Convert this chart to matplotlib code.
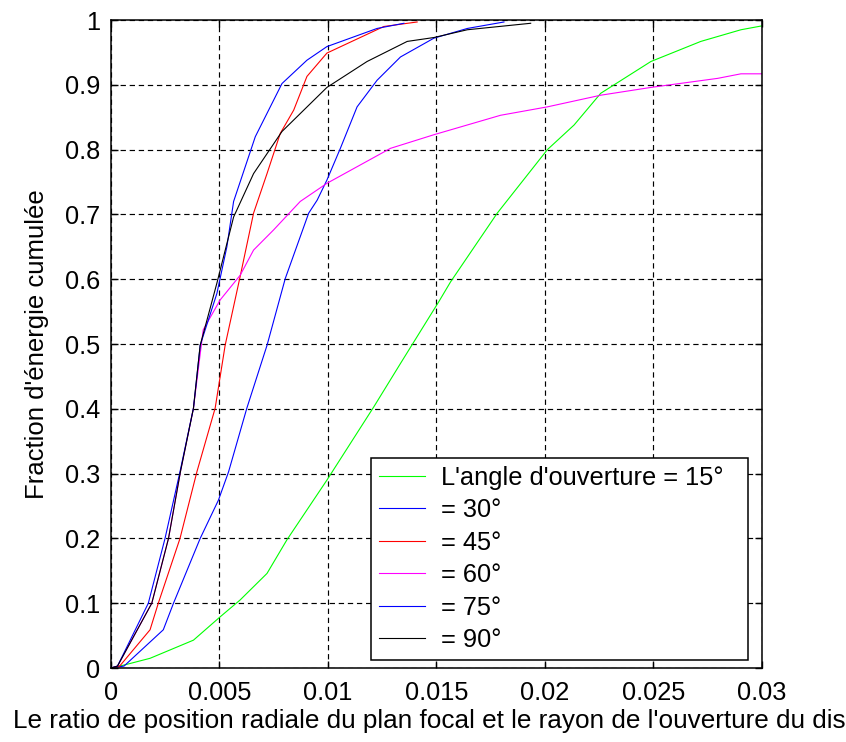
import matplotlib
matplotlib.use("Agg")
import matplotlib.pyplot as plt
from matplotlib.ticker import FixedLocator, FixedFormatter

# ---- data ----
x15 = [0, 0.00065, 0.0018, 0.0038, 0.00503, 0.00595, 0.00719, 0.00811, 0.00995, 0.01211,
       0.01334, 0.0151, 0.01565, 0.0178, 0.02011, 0.02134, 0.02257, 0.02488, 0.02718, 0.02903, 0.030]
y15 = [0, 0.005, 0.015, 0.043, 0.079, 0.105, 0.146, 0.198, 0.29, 0.403,
       0.47, 0.565, 0.596, 0.702, 0.80, 0.838, 0.887, 0.936, 0.967, 0.985, 0.991]

x30 = [0, 0.0006, 0.00241, 0.00288, 0.00411, 0.00495, 0.00542, 0.00626, 0.00719, 0.00803,
       0.00911, 0.0095, 0.00995, 0.01057, 0.01134, 0.01226, 0.01334, 0.01488, 0.01642, 0.01811]
y30 = [0, 0.003, 0.059, 0.1, 0.2, 0.259, 0.303, 0.401, 0.498, 0.601,
       0.702, 0.722, 0.753, 0.802, 0.866, 0.907, 0.943, 0.972, 0.987, 0.997]

x45 = [0, 0.0004, 0.0018, 0.00218, 0.00318, 0.00396, 0.0048, 0.00526, 0.00595, 0.00657,
       0.00719, 0.0078, 0.00842, 0.00903, 0.00995, 0.01257, 0.01411]
y45 = [0, 0.003, 0.059, 0.1, 0.2, 0.303, 0.401, 0.498, 0.604, 0.702,
       0.763, 0.825, 0.861, 0.913, 0.949, 0.990, 0.997]

x60 = [0, 0.0003, 0.00188, 0.00265, 0.0032, 0.0038, 0.00425, 0.00503, 0.00595, 0.00657,
       0.00749, 0.00872, 0.00995, 0.01288, 0.01488, 0.01795, 0.02011, 0.02257, 0.02488,
       0.02796, 0.02903, 0.030]
y60 = [0, 0.003, 0.1, 0.2, 0.303, 0.401, 0.522, 0.568, 0.606, 0.645,
       0.676, 0.72, 0.748, 0.802, 0.823, 0.853, 0.866, 0.884, 0.896,
       0.910, 0.917, 0.917]

x75 = [0, 0.0003, 0.00172, 0.00249, 0.00318, 0.0038, 0.00411, 0.00488, 0.00534, 0.00565,
       0.00665, 0.00788, 0.00903, 0.00995, 0.01226, 0.0135]
y75 = [0, 0.003, 0.1, 0.2, 0.303, 0.401, 0.498, 0.578, 0.65, 0.72,
       0.82, 0.902, 0.938, 0.959, 0.987, 0.995]

x90 = [0, 0.0003, 0.00188, 0.00265, 0.0032, 0.0038, 0.00411, 0.00488, 0.00565, 0.00657,
       0.00788, 0.00995, 0.0118, 0.01365, 0.01488, 0.01642, 0.01934]
y90 = [0, 0.003, 0.1, 0.2, 0.303, 0.401, 0.498, 0.594, 0.696, 0.763,
       0.828, 0.896, 0.936, 0.967, 0.973, 0.985, 0.995]

labels = ["L'angle d'ouverture = 15\u00b0", "= 30\u00b0", "= 45\u00b0",
          "= 60\u00b0", "= 75\u00b0", "= 90\u00b0"]
colors = ["#00ff00", "#0000ff", "#ff0000", "#ff00ff", "#0000ff", "#000000"]

xticks = [0, 0.005, 0.01, 0.015, 0.02, 0.025, 0.03]
xticklabels = ["0", "0.005", "0.01", "0.015", "0.02", "0.025", "0.03"]
yticks = [0, 0.1, 0.2, 0.3, 0.4, 0.5, 0.6, 0.7, 0.8, 0.9, 1.0]
yticklabels = ["0", "0.1", "0.2", "0.3", "0.4", "0.5", "0.6", "0.7", "0.8", "0.9", "1"]

xlabel = "Le ratio de position radiale du plan focal et le rayon de l'ouverture du dish"
ylabel = "Fraction d'\u00e9nergie cumul\u00e9e"

# ---- figure ----
plt.rcParams['font.family'] = ['Liberation Sans', 'DejaVu Sans']
FS = 18.3

fig = plt.figure(figsize=(8.46, 7.42), dpi=100)
ax = fig.add_axes([0.1312, 0.0997, 0.7695, 0.8733])

series = [(x15, y15), (x30, y30), (x45, y45), (x60, y60), (x75, y75), (x90, y90)]
for (xs, ys), c, lab in zip(series, colors, labels):
    ax.plot(xs, ys, color=c, lw=0.8, label=lab)

ax.set_xlim(0, 0.03)
ax.set_ylim(0, 1)
ax.xaxis.set_major_locator(FixedLocator(xticks))
ax.xaxis.set_major_formatter(FixedFormatter(xticklabels))
ax.yaxis.set_major_locator(FixedLocator(yticks))
ax.yaxis.set_major_formatter(FixedFormatter(yticklabels))

ax.grid(True, color='black', linestyle=(0, (4.5, 3.2)), linewidth=0.85)
ax.tick_params(direction='in', length=5, width=1, top=True, right=True,
               labelsize=FS, colors='black')
ax.tick_params(axis='x', pad=9)
ax.tick_params(axis='y', pad=8)
for s in ax.spines.values():
    s.set_linewidth(1.1)
    s.set_color('black')

ax.set_xlabel(xlabel, fontsize=18.8)
ax.xaxis.set_label_coords(0.5, -0.064)
ax.set_ylabel(ylabel, fontsize=18.5)
ax.yaxis.set_label_coords(-0.095, 0.5)

leg = ax.legend(loc='lower left', bbox_to_anchor=(0.3994, 0.0123, 0.579, 0.3),
                mode='expand', fontsize=FS,
                frameon=True, fancybox=False, edgecolor='black', framealpha=1,
                handlelength=1.8, handletextpad=0.65, labelspacing=0.33,
                borderpad=0.32, borderaxespad=0)
leg.get_frame().set_linewidth(1.1)

fig.savefig("out.png", dpi=100)
